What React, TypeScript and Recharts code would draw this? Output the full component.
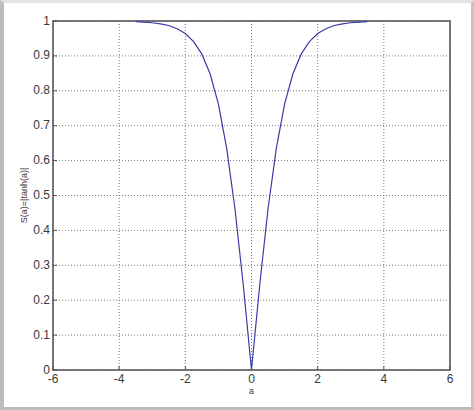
import React from "react";
import { LineChart, Line, XAxis, YAxis, CartesianGrid, ReferenceArea } from "recharts";

// a values (x) and S(a)=|tanh(a)| readings (y)
const aValues = [-3.5, -3.25, -3, -2.75, -2.5, -2.25, -2, -1.75, -1.5, -1.25, -1, -0.75, -0.5, -0.25, 0, 0.25, 0.5, 0.75, 1, 1.25, 1.5, 1.75, 2, 2.25, 2.5, 2.75, 3, 3.25, 3.5];
const sValues = [0.998, 0.997, 0.995, 0.992, 0.987, 0.978, 0.964, 0.941, 0.905, 0.848, 0.762, 0.635, 0.462, 0.245, 0, 0.245, 0.462, 0.635, 0.762, 0.848, 0.905, 0.941, 0.964, 0.978, 0.987, 0.992, 0.995, 0.997, 0.998];
const xTicks = [-6, -4, -2, 0, 2, 4, 6];
const yTicks = [0, 0.1, 0.2, 0.3, 0.4, 0.5, 0.6, 0.7, 0.8, 0.9, 1];

const data = aValues.map((a, i) => ({ a, s: sValues[i] }));

const FONT = "'Liberation Sans', Arial, sans-serif";
const AXIS = "#505050";
const TEXT = "#3a3a3a";

const XTick = (props: any) => {
  const { x, y, payload } = props;
  return (
    <g>
      <line x1={x} x2={x} y1={y} y2={y - 4} stroke={AXIS} strokeWidth={1} />
      <text x={x} y={y + 13} textAnchor="middle" fontSize={12} fontFamily={FONT} fill={TEXT}>
        {payload.value}
      </text>
    </g>
  );
};

const YTick = (props: any) => {
  const { x, y, payload } = props;
  return (
    <g>
      <line x1={x} x2={x + 4} y1={y} y2={y} stroke={AXIS} strokeWidth={1} />
      <text x={x - 3} y={y + 3.5} textAnchor="end" fontSize={12} fontFamily={FONT} fill={TEXT}>
        {payload.value}
      </text>
    </g>
  );
};

export default function App() {
  return (
    <div
      style={{
        position: "absolute",
        left: 0,
        top: 0,
        width: 474,
        height: 410,
        boxSizing: "border-box",
        background: "#ffffff",
        borderTop: "3px solid #e4e4e4",
        borderLeft: "4px solid #bcbcbc",
        borderRight: "3px solid #c4c4c4",
        borderBottom: "3px solid #bcbcbc",
      }}
    >
      <div style={{ position: "absolute", left: -4, top: -3 }}>
        <LineChart width={474} height={410} data={data} margin={{ top: 21, right: 24, bottom: 0, left: 0 }}>
          <CartesianGrid stroke="#7a7a7a" strokeDasharray="1 2" strokeWidth={1} horizontalValues={yTicks} verticalValues={xTicks} />
          <XAxis
            dataKey="a"
            type="number"
            domain={[-6, 6]}
            ticks={xTicks}
            height={40}
            axisLine={false}
            tickLine={false}
            tickSize={0}
            tickMargin={0}
            tick={<XTick />}
            interval={0}
            label={{ value: "a", position: "insideTop", offset: 18, fontSize: 9, fontFamily: FONT, fill: TEXT }}
          />
          <YAxis
            type="number"
            domain={[0, 1]}
            ticks={yTicks}
            width={53}
            axisLine={false}
            tickLine={false}
            tickSize={0}
            tickMargin={0}
            tick={<YTick />}
            interval={0}
            label={{ value: "S(a)=|tanh(a)|", angle: -90, position: "insideLeft", offset: 24, fontSize: 9, fontFamily: FONT, fill: TEXT, style: { textAnchor: "middle" } }}
          />
          <Line type="linear" dataKey="s" stroke="#3a3aa8" strokeWidth={1.2} dot={false} isAnimationActive={false} />
          <ReferenceArea x1={-6} x2={6} y1={0} y2={1} fill="none" stroke={AXIS} strokeWidth={1.5} ifOverflow="visible" />
        </LineChart>
      </div>
    </div>
  );
}
